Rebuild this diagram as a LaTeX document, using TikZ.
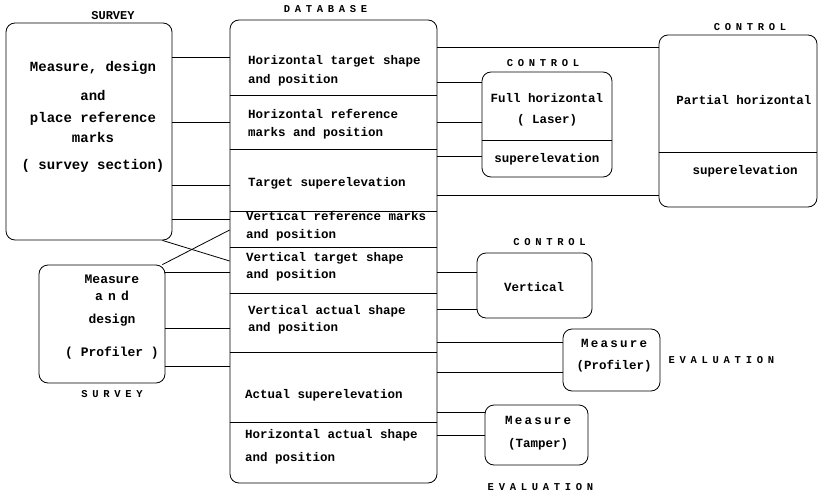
\documentclass[tikz,border=0pt]{standalone}
\usepackage{fontspec}
\newfontfamily\mono{Liberation Mono}
\usetikzlibrary{positioning,calc}
\def\link#1#2#3{
\draw [line] (#1.east |- 0,#3) -- (#2.west |- 0,#3);
}
\def\split#1#2{
\draw [line] (#1.west |- 0,#2) -- (#1.east |- 0,#2);
}
\tikzset{line/.style={line width=0.8pt},
  box/.style={draw,line width=0.8pt,rounded corners=9pt},
  txt/.style={font=\mono\bfseries\fontsize{12.5}{20}\selectfont,inner sep=0pt},
  tag/.style={font=\mono\bfseries\fontsize{10.5}{12}\selectfont\addfontfeature{LetterSpace=45},inner sep=0pt}}

\begin{document}
\begin{tikzpicture}[x=1pt,y=-1pt]
    \useasboundingbox (0,0) rectangle (819,495);
    % boxes
    \node [box,minimum width=166pt,minimum height=217pt] (sv) at (89,131.5) {};
    \node [box,minimum width=126pt,minimum height=118pt] (mdp) at (102,324) {};
    \node [box,minimum width=207pt,minimum height=463pt] (db) at (333.5,251.5) {};
    \node [box,minimum width=130pt,minimum height=105pt] (full) at (547,124.5) {};
    \node [box,minimum width=158pt,minimum height=172pt] (part) at (738,121) {};
    \node [box,minimum width=115pt,minimum height=65pt] (vert) at (534.5,285.5) {};
    \node [box,minimum width=97pt,minimum height=62pt] (prof) at (611.5,360) {};
    \node [box,minimum width=103pt,minimum height=60pt] (tamp) at (536.5,435) {};
    \split{db}{95} \split{db}{149} \split{db}{211} \split{db}{247}
    \split{db}{293} \split{db}{352} \split{db}{422}
    \split{full}{140} \split{part}{152}
    % labels
    \node [tag,font=\mono\bfseries\fontsize{12}{14}\selectfont,above=3pt of sv,xshift=24pt] (svtag) {SURVEY};
    \node [tag,above=7pt of db,xshift=-8pt] (dbtag) {DATABASE};
    \node [tag,above=5pt of full,xshift=-4pt] (fulltag) {CONTROL};
    \node [tag,above=4pt of part,xshift=12pt] (parttag) {CONTROL};
    \node [tag,above=7pt of vert,xshift=15pt] (verttag) {CONTROL};
    \node [tag,right=8pt of prof] (proftag) {EVALUATION};
    \node [tag,below=18pt of tamp,xshift=4pt] (tamptag) {EVALUATION};
    \node [tag,below=7pt of mdp,xshift=10pt] (mdptag) {SURVEY};
    % texts
    \node [txt,align=center,font=\mono\bfseries\fontsize{14}{20}\selectfont] (svtext) at (93,117) {Measure, design\\[9pt]and\\[2pt]place reference\\marks\\[7pt]( survey section)};
    \node [txt,align=center,font=\mono\bfseries\fontsize{13}{20}\selectfont] (mdptext) at (112,317) {Measure\\[-3pt]{\addfontfeature{LetterSpace=40}and}\\[3pt]design\\[13pt]( Profiler )};
    \node [txt,align=left,anchor=west,font=\mono\bfseries\fontsize{12.5}{19}\selectfont] (t1) at (248,70.5) {Horizontal target shape\\and position};
    \node [txt,align=left,anchor=west,font=\mono\bfseries\fontsize{12.5}{18}\selectfont] (t2) at (248,124) {Horizontal reference\\marks and position};
    \node [txt,anchor=west] (t3) at (248,183) {Target superelevation};
    \node [txt,align=left,anchor=west,font=\mono\bfseries\fontsize{12.5}{18}\selectfont] (t4) at (246,226) {Vertical reference marks\\and position};
    \node [txt,align=left,anchor=west,font=\mono\bfseries\fontsize{12.5}{17}\selectfont] (t5) at (246,266.5) {Vertical target shape\\and position};
    \node [txt,align=left,anchor=west,font=\mono\bfseries\fontsize{12.5}{17}\selectfont] (t6) at (248,319.5) {Vertical actual shape\\and position};
    \node [txt,anchor=west] (t7) at (245,395) {Actual superelevation};
    \node [txt,align=left,anchor=west,font=\mono\bfseries\fontsize{12.5}{23}\selectfont] (t8) at (245,446.5) {Horizontal actual shape\\and position};
    \node [txt,align=center,font=\mono\bfseries\fontsize{12.5}{21}\selectfont] (fulltext) at (547,109.5) {Full horizontal\\( Laser)};
    \node [txt] (fullsup) at (547,159) {superelevation};
    \node [txt] (parttext) at (744,100) {Partial horizontal};
    \node [txt] (partsup) at (745,171) {superelevation};
    \node [txt] (verttext) at (534,287) {Vertical};
    \node [txt,align=center,font=\mono\bfseries\fontsize{12.5}{22}\selectfont] (proftext) at (614,356) {{\addfontfeature{LetterSpace=18}Measure}\\(Profiler)};
    \node [txt,align=center,font=\mono\bfseries\fontsize{12.5}{23}\selectfont] (tamptext) at (538,433.5) {{\addfontfeature{LetterSpace=18}Measure}\\(Tamper)};
    % connectors
    \link{sv}{db}{57} \link{sv}{db}{122} \link{sv}{db}{185} \link{sv}{db}{219}
    \draw [line] ([xshift=-10pt]sv.south east) -- (db.west |- 0,261);
    \draw [line] ([xshift=-3pt]mdp.north east) -- (db.west |- 0,230);
    \link{mdp}{db}{272} \link{mdp}{db}{328} \link{mdp}{db}{366}
    \link{db}{part}{47} \link{db}{part}{195}
    \link{db}{full}{82} \link{db}{full}{122} \link{db}{full}{156}
    \link{db}{vert}{272} \link{db}{vert}{309}
    \link{db}{prof}{342} \link{db}{prof}{372}
    \link{db}{tamp}{412} \link{db}{tamp}{435}
\end{tikzpicture}
\end{document}
